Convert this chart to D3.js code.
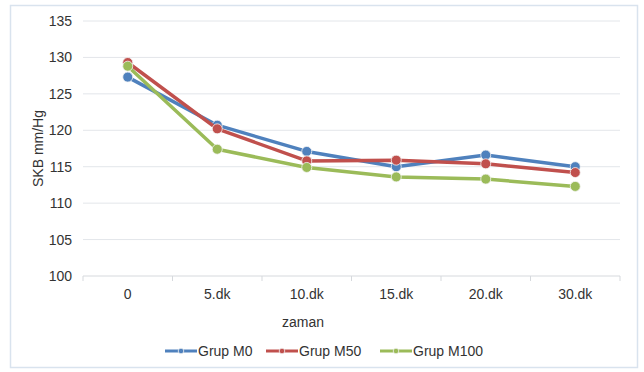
<!DOCTYPE html>
<html>
<head>
<meta charset="utf-8">
<script src="https://cdn.jsdelivr.net/npm/d3@7"></script>
<style>
  html, body { margin: 0; padding: 0; background: #fff; }
  svg { display: block; font-family: "Liberation Sans", Arial, sans-serif; }
</style>
</head>
<body>
<svg id="chart" width="644" height="372"></svg>
<script>
// Time points and systolic pressure (SKB, mm/Hg) for each group
const categories = ["0", "5.dk", "10.dk", "15.dk", "20.dk", "30.dk"];
const grupM0   = [127.3, 120.7, 117.1, 115.0, 116.6, 115.0];
const grupM50  = [129.3, 120.2, 115.8, 115.9, 115.4, 114.2];
const grupM100 = [128.8, 117.4, 114.9, 113.6, 113.3, 112.3];
const yTicks = [100, 105, 110, 115, 120, 125, 130, 135];

const series = [
  { name: "Grup M0",   values: grupM0,   color: "#4f81bd" },
  { name: "Grup M50",  values: grupM50,  color: "#c0504d" },
  { name: "Grup M100", values: grupM100, color: "#9bbb59" }
];

const svg = d3.select("#chart");
const margin = { left: 83, right: 24, top: 21, bottom: 96 };
const W = 644, H = 372;
const plotW = W - margin.left - margin.right;
const plotH = H - margin.top - margin.bottom;

// Outer chart frame
svg.append("rect")
  .attr("x", 10.5).attr("y", 5.5)
  .attr("width", 627).attr("height", 362)
  .attr("fill", "#fff")
  .attr("stroke", "#d9e3ee").attr("stroke-width", 1.5);

const x = d3.scaleBand().domain(categories).range([0, plotW]);
const y = d3.scaleLinear().domain([100, 135]).range([plotH, 0]);

const g = svg.append("g").attr("transform", `translate(${margin.left},${margin.top})`);

// Horizontal gridlines
g.append("g")
  .selectAll("line")
  .data(yTicks.filter(t => t > 100))
  .join("line")
  .attr("x1", 0).attr("x2", plotW)
  .attr("y1", d => y(d)).attr("y2", d => y(d))
  .attr("stroke", "#e3e6ea").attr("stroke-width", 1);

// Y axis labels
const yAxis = d3.axisLeft(y).tickValues(yTicks).tickSize(0).tickPadding(11);
g.append("g").call(yAxis)
  .call(s => s.select(".domain").remove())
  .call(s => s.selectAll("text")
    .attr("fill", "#333").attr("font-size", 14));

// X axis with category boundary ticks
const xAxisG = g.append("g").attr("transform", `translate(0,${plotH})`);
xAxisG.append("line")
  .attr("x1", 0).attr("x2", plotW)
  .attr("stroke", "#d6d9dd").attr("stroke-width", 1);
xAxisG.selectAll("line.tk")
  .data(categories.concat(["end"]))
  .join("line").attr("class", "tk")
  .attr("x1", (d, i) => i * x.bandwidth())
  .attr("x2", (d, i) => i * x.bandwidth())
  .attr("y1", 0).attr("y2", 5)
  .attr("stroke", "#d6d9dd");
xAxisG.selectAll("text")
  .data(categories)
  .join("text")
  .attr("x", d => x(d) + x.bandwidth() / 2)
  .attr("y", 23)
  .attr("text-anchor", "middle")
  .attr("fill", "#333").attr("font-size", 14)
  .text(d => d);

// Axis titles
svg.append("text")
  .attr("transform", `translate(43,${margin.top + plotH / 2}) rotate(-90)`)
  .attr("text-anchor", "middle")
  .attr("fill", "#333").attr("font-size", 14)
  .text("SKB mm/Hg");
svg.append("text")
  .attr("x", 303).attr("y", 327)
  .attr("text-anchor", "middle")
  .attr("fill", "#333").attr("font-size", 14)
  .text("zaman");

// Series lines and markers
const line = d3.line()
  .x((d, i) => x(categories[i]) + x.bandwidth() / 2)
  .y(d => y(d));

series.forEach(s => {
  const sg = g.append("g");
  sg.append("path")
    .datum(s.values)
    .attr("d", line)
    .attr("fill", "none")
    .attr("stroke", s.color)
    .attr("stroke-width", 3.5)
    .attr("stroke-linejoin", "round");
  sg.selectAll("circle")
    .data(s.values)
    .join("circle")
    .attr("cx", (d, i) => x(categories[i]) + x.bandwidth() / 2)
    .attr("cy", d => y(d))
    .attr("r", 5)
    .attr("fill", s.color)
    .attr("stroke", "#f4f4f4").attr("stroke-width", 0.8);
});

// Legend
const legendX = [165, 266, 380];
const lg = svg.append("g").attr("transform", "translate(0,351)");
series.forEach((s, i) => {
  const item = lg.append("g").attr("transform", `translate(${legendX[i]},0)`);
  item.append("line")
    .attr("x1", 0).attr("x2", 32).attr("y1", 0).attr("y2", 0)
    .attr("stroke", s.color).attr("stroke-width", 3);
  item.append("circle")
    .attr("cx", 16).attr("cy", 0).attr("r", 2.8)
    .attr("fill", s.color).attr("stroke", "#f4f4f4").attr("stroke-width", 0.8);
  item.append("text")
    .attr("x", 33).attr("y", 5)
    .attr("fill", "#333").attr("font-size", 14)
    .text(s.name);
});
</script>
</body>
</html>
